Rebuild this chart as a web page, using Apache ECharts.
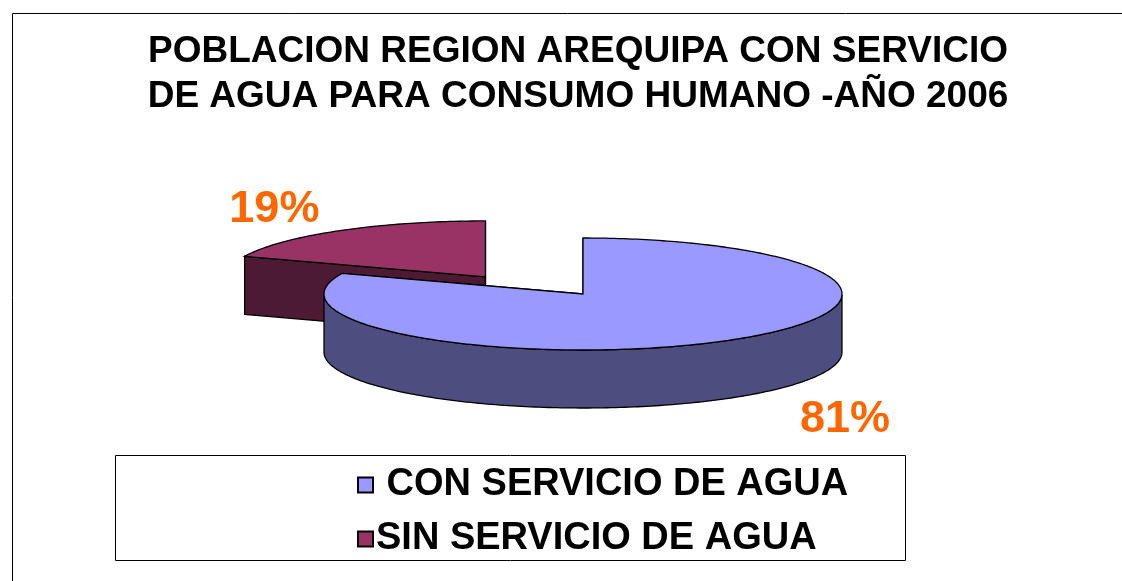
<!DOCTYPE html>
<html>
<head>
<meta charset="utf-8">
<script src="https://cdn.jsdelivr.net/npm/echarts@6/dist/echarts.min.js"></script>
<style>
html,body{margin:0;padding:0;background:#fff;}
#chart{width:1122px;height:581px;}
</style>
</head>
<body>
<div id="chart"></div>
<script>
// ---- data ----
const categories = [' CON SERVICIO DE AGUA', 'SIN SERVICIO DE AGUA'];
const values = [81, 19];
const titleLines = ['POBLACION REGION AREQUIPA CON SERVICIO', 'DE AGUA PARA CONSUMO HUMANO -AÑO 2006'];

// ---- style ----
const topColors = ['#9999FF', '#993366'];
const explodeFrac = [0, 0.67];
const geo = { cx: 583, cy: 294, rx: 259, ry: 56, depth: 58, startAngle: 90, explodeYScale: 0.55 };
const FONT = 'Liberation Sans, Arial, sans-serif';

const total = values.reduce((a, b) => a + b, 0);
const slices = [];
(function () {
  let a = geo.startAngle;
  values.forEach((v, i) => {
    const a0 = a, a1 = a - 360 * v / total;
    slices.push({ a0, a1, mid: (a0 + a1) / 2 });
    a = a1;
  });
})();

function shade(hex, f) {
  const c = echarts.color.parse(hex);
  return 'rgb(' + [0, 1, 2].map(k => Math.round(c[k] * f)).join(',') + ')';
}

function makeRender(i) {
  return function (params, api) {
    const s = slices[i];
    const rad = d => d * Math.PI / 180;
    const e = explodeFrac[i];
    const cx = geo.cx + Math.cos(rad(s.mid)) * e * geo.rx;
    const cy = geo.cy - Math.sin(rad(s.mid)) * e * geo.ry * geo.explodeYScale;
    const D = geo.depth;
    const P = (a, dy) => [cx + geo.rx * Math.cos(rad(a)), cy - geo.ry * Math.sin(rad(a)) + (dy || 0)];
    const top = api.visual('color');
    const side = shade(top, 0.5);
    const line = { stroke: '#000', lineWidth: 1.3 };
    const children = [];
    // radial faces
    [s.a0, s.a1].forEach(a => {
      children.push({ type: 'polygon', z2: 0,
        shape: { points: [[cx, cy], P(a), P(a, D), [cx, cy + D]] },
        style: Object.assign({ fill: side }, line) });
    });
    // outer wall, front part only
    const steps = Math.max(8, Math.ceil(s.a0 - s.a1));
    let run = [];
    const runs = [];
    for (let k = 0; k <= steps; k++) {
      const a = s.a1 + (s.a0 - s.a1) * k / steps;
      if (Math.sin(rad(a)) <= 1e-6) run.push(a);
      else if (run.length) { runs.push(run); run = []; }
    }
    if (run.length) runs.push(run);
    runs.forEach(r => {
      if (r.length < 2) return;
      const pts = r.map(a => P(a)).concat(r.slice().reverse().map(a => P(a, D)));
      children.push({ type: 'polygon', z2: 1, shape: { points: pts },
        style: Object.assign({ fill: side }, line) });
    });
    // top face
    const tp = [[cx, cy]];
    for (let k = 0; k <= steps; k++) tp.push(P(s.a0 - (s.a0 - s.a1) * k / steps));
    children.push({ type: 'polygon', z2: 2, shape: { points: tp },
      style: Object.assign({ fill: top }, line) });
    // label (outside the slice, below the wall for front slices)
    const front = Math.sin(rad(s.mid)) < 0;
    const kx = front ? 1.8 : 1.45, ky = 1.45;
    const lx = cx + geo.rx * kx * Math.cos(rad(s.mid));
    const ly = cy - geo.ry * ky * Math.sin(rad(s.mid)) + (front ? D : 0);
    children.push({ type: 'text', z2: 3, x: lx, y: ly,
      style: { text: Math.round(values[i] / total * 100) + '%', fill: '#FF6600',
        font: 'bold 45px ' + FONT, align: 'center', verticalAlign: 'middle' } });
    return { type: 'group', children };
  };
}

const chart = echarts.init(document.getElementById('chart'), null, { renderer: 'canvas' });
chart.setOption({
  animation: false,
  title: {
    text: titleLines.join('\n'),
    left: 573, top: 24, textAlign: 'center',
    textStyle: { fontFamily: FONT, fontSize: 37, fontWeight: 'bold', color: '#000', lineHeight: 45 }
  },
  legend: {
    orient: 'vertical', left: 352, top: 461,
    icon: 'rect', itemWidth: 15, itemHeight: 15, itemGap: 16,
    textStyle: { fontFamily: FONT, fontSize: 38, fontWeight: 'bold', color: '#000', lineHeight: 35, padding: [0, 0, 0, -2] },
    data: categories
  },
  graphic: [
    { type: 'rect', shape: { x: 12.5, y: 13.5, width: 1130, height: 600 },
      style: { fill: 'none', stroke: '#000', lineWidth: 1 }, z: -1 },
    { type: 'rect', shape: { x: 115.5, y: 455.5, width: 790, height: 105 },
      style: { fill: 'none', stroke: '#000', lineWidth: 1 }, z: -1 }
  ],
  series: categories.map((name, i) => ({
    type: 'custom', name: name, coordinateSystem: 'none',
    z: Math.sin(slices[i].mid * Math.PI / 180) < 0 ? 3 : 2,
    itemStyle: { color: topColors[i], borderColor: '#000', borderWidth: 1 },
    renderItem: makeRender(i),
    data: [values[i]]
  }))
});
</script>
</body>
</html>
